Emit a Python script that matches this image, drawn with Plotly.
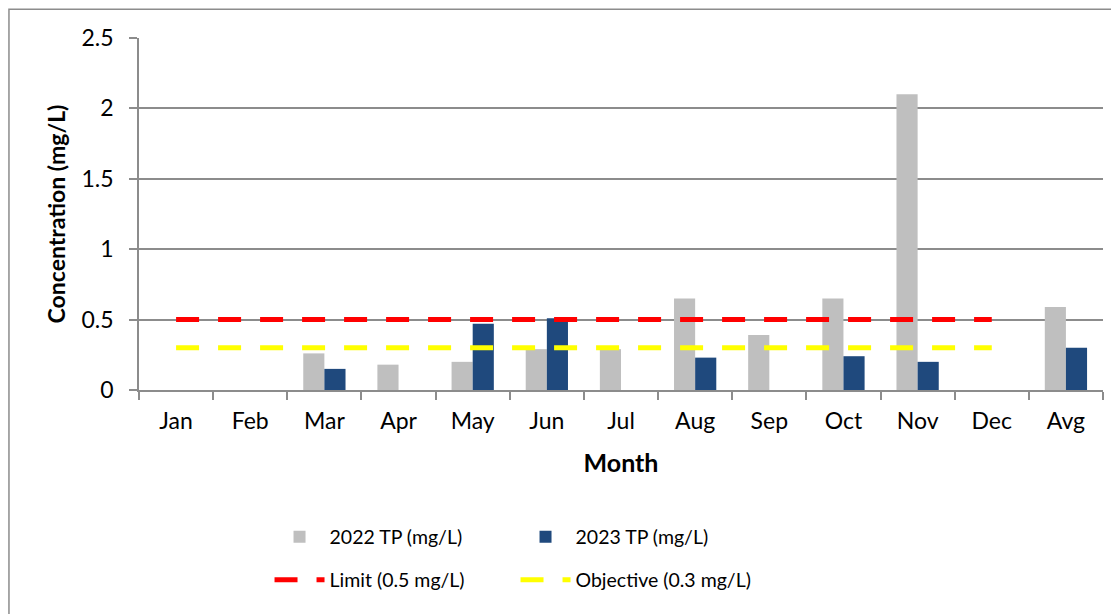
import plotly.graph_objects as go

# Monthly total phosphorus
months = ["Jan", "Feb", "Mar", "Apr", "May", "Jun", "Jul", "Aug", "Sep", "Oct", "Nov", "Dec", "Avg"]
tp_2022 = [None, None, 0.26, 0.18, 0.20, 0.29, 0.29, 0.65, 0.39, 0.65, 2.10, None, 0.59]
tp_2023 = [None, None, 0.15, None, 0.47, 0.51, None, 0.23, None, 0.24, 0.20, None, 0.30]

line_months = ["Jan", "Feb", "Mar", "Apr", "May", "Jun", "Jul", "Aug", "Sep", "Oct", "Nov", "Dec"]
limit = [0.5, 0.5, 0.5, 0.5, 0.5, 0.5, 0.5, 0.5, 0.5, 0.5, 0.5, 0.5]
objective = [0.3, 0.3, 0.3, 0.3, 0.3, 0.3, 0.3, 0.3, 0.3, 0.3, 0.3, 0.3]

FONT = "Lato, Calibri, sans-serif"
GRID = "#8C8C8C"

fig = go.Figure()

fig.add_trace(go.Bar(x=months, y=tp_2022, name="2022 TP (mg/L)",
                     marker=dict(color="#BFBFBF", line=dict(width=0)), legend="legend"))
fig.add_trace(go.Bar(x=months, y=tp_2023, name="2023 TP (mg/L)",
                     marker=dict(color="#1F497D", line=dict(width=0)), legend="legend"))

fig.add_trace(go.Scatter(x=line_months, y=limit, name="Limit (0.5 mg/L)", mode="lines",
                         line=dict(color="#FF0000", width=5, dash="23px,19px"), legend="legend2"))
fig.add_trace(go.Scatter(x=line_months, y=objective, name="Objective (0.3 mg/L)", mode="lines",
                         line=dict(color="#FFFF00", width=5, dash="23px,19px"), legend="legend2"))

# outer chart frame (runs off the right and bottom of the picture)
fig.add_shape(type="rect", xref="paper", yref="paper", x0=-0.1349, x1=1.05, y0=-1.0, y1=1.082,
              line=dict(color="#8C8C8C", width=1.5), layer="below")

legend_common = dict(orientation="h", xanchor="left", yanchor="middle",
                     entrywidth=181, itemwidth=50, bgcolor="rgba(0,0,0,0)",
                     font=dict(family=FONT, size=19.5, color="#000"))

# page body adds an 8px margin, so the figure is 8px smaller than the window
fig.update_layout(
    width=1111, height=606,
    margin=dict(l=131, r=16, t=30, b=224, autoexpand=False),
    paper_bgcolor="white", plot_bgcolor="white",
    font=dict(family=FONT, size=23, color="#000"),
    barmode="group", bargap=0.43, bargroupgap=0,
    legend=dict(x=0.1354, y=-0.4176, **legend_common),
    legend2=dict(x=0.1354, y=-0.54, **legend_common),
    xaxis=dict(
        title=dict(text="<b>Month</b>", standoff=21, font=dict(size=25)),
        tickson="boundaries", ticks="outside", ticklen=8, tickcolor=GRID, tickwidth=1.5,
        showline=True, linecolor=GRID, linewidth=1.5, showgrid=False,
        ticklabelstandoff=10, tickfont=dict(size=23),
    ),
    yaxis=dict(
        title=dict(text="<b>Concentration (mg/L)</b>", standoff=9, font=dict(size=23)),
        range=[0, 2.5], dtick=0.5, ticks="outside", ticklen=8, tickcolor=GRID, tickwidth=1.5,
        showline=True, linecolor=GRID, linewidth=1.5,
        showgrid=True, gridcolor=GRID, gridwidth=1.5, zeroline=False,
        ticklabelstandoff=11, tickfont=dict(size=23),
    ),
)

fig.write_html("out.html")
